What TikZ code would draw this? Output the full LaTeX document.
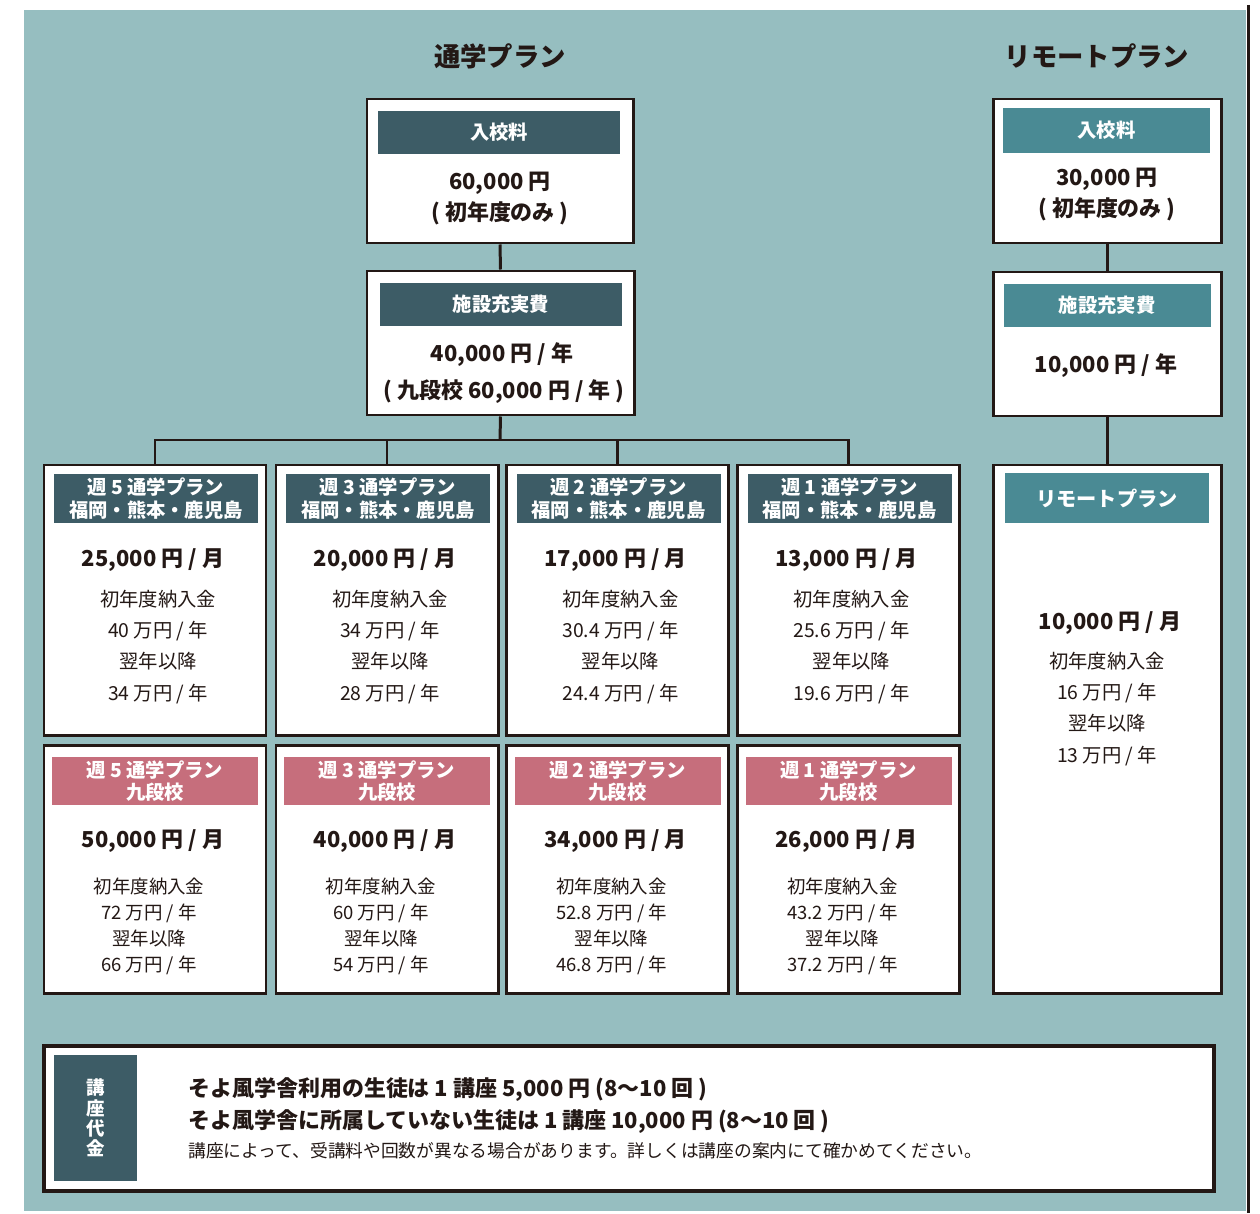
\documentclass[tikz,border=0pt]{standalone}
\usepackage{fontspec}
\setmainfont{Noto Sans CJK JP}
\usetikzlibrary{positioning}

\definecolor{bgteal}{HTML}{96BEC0}
\definecolor{hdark}{HTML}{3D5C66}
\definecolor{hlight}{HTML}{4A8A94}
\definecolor{hpink}{HTML}{C66E7C}
\definecolor{ink}{HTML}{231815}
\newcommand{\pxu}{0.02cm}

\tikzset{
  plan/.style 2 args={draw=ink, fill=white, line width=1.7pt, inner sep=0pt,
                      minimum width=#1*\pxu, minimum height=#2*\pxu},
  band/.style 2 args={fill=#1, text=white, inner sep=0pt, align=center,
                      minimum width=#2*\pxu, font=\bfseries\fontsize{11}{13}\selectfont},
  link/.style={draw=ink, line width=1.7pt},
  heading/.style={text=ink, font=\bfseries\fontsize{15}{18}\selectfont},
  price/.style={text=ink, align=center, font=\bfseries\fontsize{12.5}{17.6}\selectfont},
  detail/.style={text=ink, align=center, font=\fontsize{11}{17.7}\selectfont},
  smalldetail/.style={text=ink, align=center, font=\fontsize{10.5}{14.9}\selectfont}
}

\begin{document}
\begin{tikzpicture}[x=0.02cm,y=-0.02cm]
  \useasboundingbox (0,0) rectangle (1260,1213);
  \fill[bgteal] (24,10) rectangle (1246,1211);
  \draw[ink, line width=2.2pt] (1248.5,5) -- (1248.5,1213);

  \node[heading] (tday) at (500,56) {通学プラン};
  \node[heading] (trem) at (1097,56) {リモートプラン};

  % 通学プラン
  \node[plan={266}{144}] (fee) at (500,171) {};
  \node[band={hdark}{242}, minimum height=43*\pxu] (feeh) at (499,132.5) {入校料};
  \node[price] (feet) at (500,198.5) {60,000 円\\( 初年度のみ )};

  \node[plan={267}{144}] (fac) at (500.5,343) {};
  \node[band={hdark}{242}, minimum height=43*\pxu] (fach) at (501,304.5) {施設充実費};
  \node[price] (fact1) at (502,355) {40,000 円 / 年};
  \node[price] (fact2) at (504,392) {( 九段校 60,000 円 / 年 )};

  % 福岡・熊本・鹿児島
  \foreach \n/\cx/\wk/\pr/\fy/\ny in {1/155/5/{25,000}/40/34, 2/387/3/{20,000}/34/28,
                                      3/617.5/2/{17,000}/30.4/24.4, 4/848.5/1/{13,000}/25.6/19.6}
  {
    \node[plan={222}{270}] (w\n) at (\cx,600) {};
    \node[band={hdark}{204}, minimum height=49*\pxu] (wh\n) at (\cx+1,498.5)
      {週 \wk{} 通学プラン\\福岡・熊本・鹿児島};
    \node[price] (wp\n) at (\cx-2,560) {\pr{} 円 / 月};
    \node[detail] (wd\n) at (\cx+3,647) {初年度納入金\\\fy{} 万円 / 年\\翌年以降\\\ny{} 万円 / 年};
  }

  % 九段校
  \foreach \n/\cx/\wk/\pr/\fy/\ny in {1/155/5/{50,000}/72/66, 2/387/3/{40,000}/60/54,
                                      3/617.5/2/{34,000}/52.8/46.8, 4/848.5/1/{26,000}/43.2/37.2}
  {
    \node[plan={222}{248}] (k\n) at (\cx,869) {};
    \node[band={hpink}{206}, minimum height=48*\pxu] (kh\n) at (\cx,781)
      {週 \wk{} 通学プラン\\九段校};
    \node[price] (kp\n) at (\cx-2,841) {\pr{} 円 / 月};
    \node[smalldetail] (kd\n) at (\cx-6,926.5) {初年度納入金\\\fy{} 万円 / 年\\翌年以降\\\ny{} 万円 / 年};
  }

  \coordinate (bus) at (500,440);
  \draw[link] (fee.south) -- (fac.north);
  \draw[link] (fac.south) -- (bus);
  \draw[link] (w1.north) |- (bus) -| (w4.north);
  \draw[link] (w2.north) -- (w2.north |- bus);
  \draw[link] (w3.north) -- (w3.north |- bus);

  % リモートプラン
  \node[plan={228}{144}] (rfee) at (1107,171) {};
  \node[band={hlight}{207}, minimum height=45*\pxu] (rfeeh) at (1106.5,130.5) {入校料};
  \node[price] (rfeet) at (1107,194.5) {30,000 円\\( 初年度のみ )};

  \node[plan={228}{144}] (rfac) at (1107,344) {};
  \node[band={hlight}{207}, minimum height=43*\pxu] (rfach) at (1107,305.5) {施設充実費};
  \node[price] (rfact) at (1106,366) {10,000 円 / 年};

  \node[plan={228}{528}] (rem) at (1107,729) {};
  \node[band={hlight}{204}, minimum height=50*\pxu, font=\bfseries\fontsize{11.5}{13}\selectfont]
    (remh) at (1107,498) {リモートプラン};
  \node[price] (remp) at (1110,623) {10,000 円 / 月};
  \node[detail] (remd) at (1107,709) {初年度納入金\\16 万円 / 年\\翌年以降\\13 万円 / 年};

  \draw[link] (rfee.south) -- (rfac.north);
  \draw[link] (rfac.south) -- (rem.north);

  % 講座代金
  \node[plan={1170}{145}, line width=2pt] (lec) at (629,1118.5) {};
  \node[band={hdark}{83}, minimum height=126*\pxu, font=\bfseries\fontsize{10.5}{11.5}\selectfont]
    (lech) at (95.5,1118) {講\\座\\代\\金};
  \node[anchor=west, text=ink, font=\bfseries\fontsize{12.5}{15}\selectfont, inner sep=0pt]
    (lec1) at (188,1090) {そよ風学舎利用の生徒は 1 講座 5,000 円 (8〜10 回 )};
  \node[anchor=west, text=ink, font=\bfseries\fontsize{12.5}{15}\selectfont, inner sep=0pt]
    (lec2) at (188,1122) {そよ風学舎に所属していない生徒は 1 講座 10,000 円 (8〜10 回 )};
  \node[anchor=west, text=ink, font=\fontsize{10.1}{12}\selectfont, inner sep=0pt]
    (lec3) at (188,1151) {講座によって、受講料や回数が異なる場合があります。詳しくは講座の案内にて確かめてください。};
\end{tikzpicture}
\end{document}
